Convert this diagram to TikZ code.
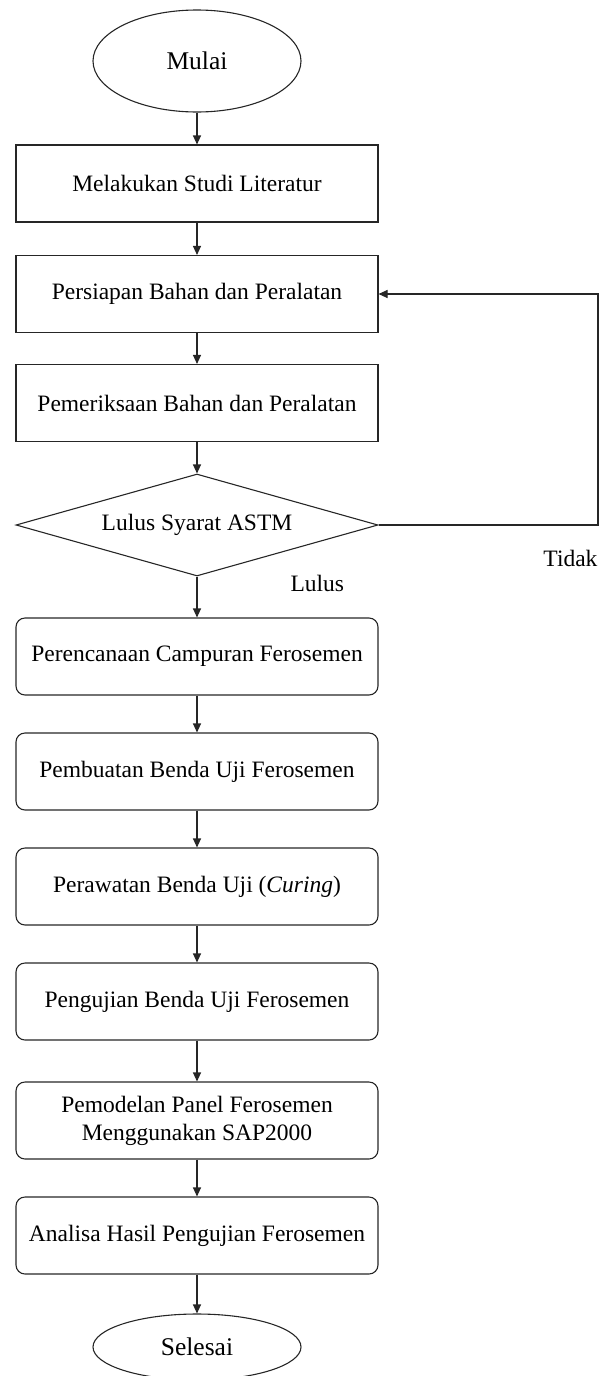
\documentclass[tikz,border=0pt]{standalone}
\usepackage{fontspec}
\setmainfont{Liberation Serif}
\usetikzlibrary{shapes.geometric,arrows.meta}

\begin{document}
\begin{tikzpicture}[x=1pt, y=-1pt, line width=1.1pt,
		box/.style={draw=black!85, rectangle, minimum width=362pt, minimum height=77pt, inner sep=0pt, align=center, font=\fontsize{23.5}{28}\selectfont},
		roundbox/.style={box, rounded corners=9pt},
		terminal/.style={draw=black!85, ellipse, minimum width=208pt, inner sep=0pt, font=\fontsize{25.5}{30}\selectfont},
		decision/.style={draw=black!85, diamond, aspect=3.5, minimum width=362pt, minimum height=102pt, inner sep=0pt, font=\fontsize{23.5}{28}\selectfont},
		arr/.style={draw=black!85, -{Triangle[length=9pt, width=8pt]}},
		tag/.style={inner sep=0pt, font=\fontsize{23.5}{28}\selectfont}
	]
		
		\useasboundingbox (0,0) rectangle (603,1376);
		
		\coordinate (kanan) at (598,294);
		
		% Main steps
		\node[terminal, minimum height=102pt] (mulai) at (197,61) {Mulai};
		\node[box] (studi) at (197,183.5) {Melakukan Studi Literatur};
		\node[box] (persiapan) at (197,294) {Persiapan Bahan dan Peralatan};
		\node[box] (periksa) at (197,403) {Pemeriksaan Bahan dan Peralatan};
		\node[decision] (astm) at (197,525) {Lulus Syarat ASTM};
		\node[roundbox] (campuran) at (197,656.5) {Perencanaan Campuran Ferosemen};
		\node[roundbox] (pembuatan) at (197,771.5) {Pembuatan Benda Uji Ferosemen};
		\node[roundbox] (perawatan) at (197,886.5) {Perawatan Benda Uji (\textit{Curing})};
		\node[roundbox] (pengujian) at (197,1001.5) {Pengujian Benda Uji Ferosemen};
		\node[roundbox] (pemodelan) at (197,1120.5) {Pemodelan Panel Ferosemen\\Menggunakan SAP2000};
		\node[roundbox] (analisa) at (197,1235.5) {Analisa Hasil Pengujian Ferosemen};
		\node[terminal, minimum height=66pt] (selesai) at (197,1347) {Selesai};
		
		% Arrows
		\draw[arr] (mulai) -- (studi);
		\draw[arr] (studi) -- (persiapan);
		\draw[arr] (persiapan) -- (periksa);
		\draw[arr] (periksa) -- (astm);
		\draw[arr] (astm) -- (campuran);
		\draw[arr] (campuran) -- (pembuatan);
		\draw[arr] (pembuatan) -- (perawatan);
		\draw[arr] (perawatan) -- (pengujian);
		\draw[arr] (pengujian) -- (pemodelan);
		\draw[arr] (pemodelan) -- (analisa);
		\draw[arr] (analisa) -- (selesai);
		
		% Loop back
		\draw[arr] (astm.east) -| (kanan) -- (persiapan.east);
		
		% Labels
		\node[tag, anchor=east] (tidak) at (598,558) {Tidak};
		\node[tag, anchor=west] (lulus) at (290,583) {Lulus};
		
	\end{tikzpicture}
\end{document}
